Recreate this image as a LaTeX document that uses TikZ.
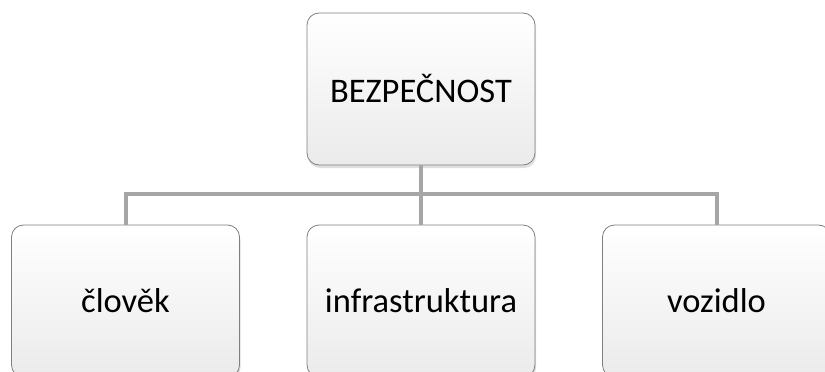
\documentclass[tikz,border=0pt]{standalone}
\usepackage{fontspec}
\setmainfont{Carlito}
\usetikzlibrary{shadows}
\definecolor{boxline}{HTML}{7F7F7F}
\definecolor{linkgray}{HTML}{A6A6A6}
\tikzset{
  box/.style={draw=boxline, line width=0.8pt, rounded corners=12pt,
    top color=white, bottom color=black!8,
    minimum width=228pt, minimum height=152pt,
    font=\fontsize{34.5}{40}\selectfont,
    drop shadow={shadow xshift=1pt, shadow yshift=-3pt, opacity=0.25}},
  link/.style={draw=linkgray, line width=4pt}
}
\begin{document}
\begin{tikzpicture}[x=1pt,y=-1pt]
\useasboundingbox (0,0) rectangle (825,372);
\clip (0,0) rectangle (825,372);
% links between the levels
\coordinate (bus) at (421,194);
\node[box] (bezp) at (421,89) {BEZPEČNOST};
\node[box] (clovek) at (125.5,301) {člověk};
\node[box] (infra) at (421,301) {infrastruktura};
\node[box] (vozidlo) at (716.5,301) {vozidlo};
\draw[link] (bezp.south) -- (bus);
\draw[link] (clovek.north) |- (bus) -| (vozidlo.north);
\draw[link] (bus) -- (infra.north);
\end{tikzpicture}
\end{document}
